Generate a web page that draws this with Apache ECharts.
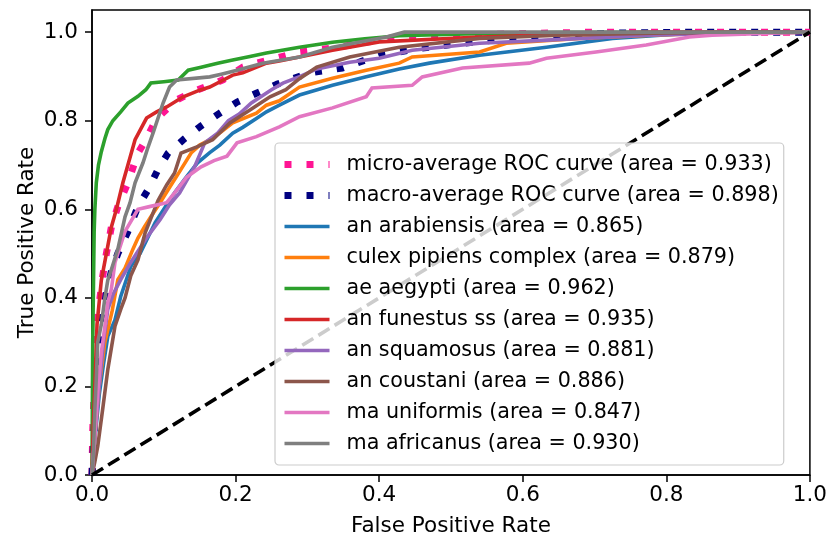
<!DOCTYPE html>
<html>
<head>
<meta charset="utf-8">
<script src="https://cdn.jsdelivr.net/npm/echarts@6/dist/echarts.min.js"></script>
<style>
  html, body { margin: 0; padding: 0; background: #fff; }
  #chart { width: 830px; height: 542px; }
</style>
</head>
<body>
<div id="chart"></div>
<script>
// ROC curves per class: false positive rate (x) and true positive rate (y)
const microFpr = [0, 0.001, 0.004, 0.008, 0.015, 0.020, 0.027, 0.036, 0.050, 0.064, 0.075, 0.090, 0.118, 0.146, 0.182, 0.210, 0.229, 0.289, 0.335, 0.428, 0.550, 0.700, 1.0];
const microTpr = [0, 0.10, 0.24, 0.36, 0.45, 0.50, 0.56, 0.606, 0.66, 0.727, 0.757, 0.805, 0.847, 0.869, 0.892, 0.921, 0.930, 0.955, 0.964, 0.990, 0.995, 1.0, 1.0];

const macroFpr = [0, 0.006, 0.008, 0.011, 0.020, 0.027, 0.036, 0.050, 0.064, 0.078, 0.092, 0.106, 0.127, 0.150, 0.178, 0.202, 0.229, 0.257, 0.303, 0.349, 0.400, 0.460, 0.516, 0.586, 0.725, 0.850, 1.0];
const macroTpr = [0, 0.20, 0.26, 0.31, 0.41, 0.46, 0.50, 0.55, 0.606, 0.644, 0.69, 0.727, 0.757, 0.786, 0.817, 0.842, 0.862, 0.882, 0.908, 0.919, 0.948, 0.964, 0.975, 0.986, 0.998, 1.0, 1.0];

const arabiensisFpr = [0, 0.004, 0.010, 0.016, 0.022, 0.032, 0.040, 0.054, 0.060, 0.067, 0.088, 0.100, 0.115, 0.130, 0.147, 0.164, 0.178, 0.196, 0.210, 0.229, 0.243, 0.261, 0.289, 0.335, 0.382, 0.428, 0.470, 0.540, 0.633, 0.725, 0.818, 0.900, 1.0];
const arabiensisTpr = [0, 0.08, 0.18, 0.25, 0.313, 0.35, 0.403, 0.471, 0.486, 0.50, 0.57, 0.60, 0.637, 0.67, 0.705, 0.728, 0.745, 0.772, 0.785, 0.805, 0.82, 0.835, 0.858, 0.88, 0.899, 0.917, 0.93, 0.948, 0.966, 0.986, 0.996, 1.0, 1.0];

const culexFpr = [0, 0.004, 0.010, 0.018, 0.028, 0.036, 0.046, 0.057, 0.064, 0.073, 0.082, 0.095, 0.106, 0.122, 0.138, 0.150, 0.164, 0.180, 0.196, 0.229, 0.243, 0.261, 0.289, 0.335, 0.382, 0.428, 0.446, 0.540, 0.577, 0.679, 0.780, 0.880, 1.0];
const culexTpr = [0, 0.09, 0.20, 0.30, 0.37, 0.441, 0.467, 0.51, 0.535, 0.56, 0.583, 0.615, 0.644, 0.685, 0.727, 0.745, 0.757, 0.775, 0.795, 0.817, 0.835, 0.845, 0.876, 0.896, 0.914, 0.930, 0.944, 0.955, 0.975, 0.986, 0.993, 0.998, 1.0];

const aegyptiFpr = [0, 0.001, 0.003, 0.004, 0.006, 0.009, 0.013, 0.018, 0.022, 0.029, 0.040, 0.050, 0.064, 0.075, 0.082, 0.100, 0.120, 0.134, 0.152, 0.175, 0.196, 0.220, 0.243, 0.289, 0.335, 0.380, 0.428, 0.520, 0.650, 1.0];
const aegyptiTpr = [0, 0.30, 0.55, 0.60, 0.66, 0.70, 0.73, 0.76, 0.78, 0.80, 0.82, 0.84, 0.855, 0.87, 0.885, 0.888, 0.892, 0.914, 0.921, 0.930, 0.937, 0.945, 0.953, 0.966, 0.977, 0.985, 0.992, 0.996, 0.999, 1.0];

const funestusFpr = [0, 0.002, 0.004, 0.007, 0.013, 0.020, 0.027, 0.034, 0.043, 0.050, 0.060, 0.076, 0.090, 0.104, 0.127, 0.150, 0.164, 0.196, 0.210, 0.243, 0.261, 0.289, 0.335, 0.400, 0.540, 0.725, 0.780, 1.0];
const funestusTpr = [0, 0.12, 0.20, 0.34, 0.44, 0.50, 0.56, 0.60, 0.66, 0.70, 0.757, 0.806, 0.82, 0.831, 0.854, 0.869, 0.876, 0.903, 0.908, 0.930, 0.935, 0.944, 0.959, 0.978, 0.989, 0.998, 1.0, 1.0];

const squamosusFpr = [0, 0.004, 0.010, 0.016, 0.022, 0.030, 0.040, 0.054, 0.062, 0.078, 0.095, 0.108, 0.122, 0.143, 0.157, 0.175, 0.190, 0.205, 0.222, 0.250, 0.266, 0.290, 0.313, 0.359, 0.400, 0.446, 0.540, 0.633, 0.772, 0.910, 1.0];
const squamosusTpr = [0, 0.09, 0.20, 0.30, 0.374, 0.41, 0.441, 0.48, 0.50, 0.54, 0.577, 0.61, 0.637, 0.696, 0.75, 0.772, 0.80, 0.815, 0.84, 0.87, 0.885, 0.90, 0.917, 0.932, 0.941, 0.959, 0.975, 0.982, 0.993, 0.998, 1.0];

const coustaniFpr = [0, 0.004, 0.008, 0.015, 0.022, 0.032, 0.040, 0.046, 0.054, 0.064, 0.074, 0.092, 0.104, 0.115, 0.124, 0.146, 0.168, 0.192, 0.220, 0.248, 0.270, 0.289, 0.313, 0.359, 0.428, 0.540, 0.650, 0.800, 1.0];
const coustaniTpr = [0, 0.03, 0.065, 0.15, 0.238, 0.336, 0.374, 0.40, 0.45, 0.486, 0.547, 0.62, 0.655, 0.682, 0.727, 0.741, 0.757, 0.795, 0.824, 0.854, 0.87, 0.895, 0.921, 0.944, 0.966, 0.986, 0.993, 0.998, 1.0];

const uniformisFpr = [0, 0.004, 0.008, 0.013, 0.018, 0.022, 0.027, 0.032, 0.040, 0.046, 0.064, 0.080, 0.104, 0.115, 0.132, 0.152, 0.170, 0.188, 0.202, 0.229, 0.261, 0.289, 0.335, 0.382, 0.390, 0.446, 0.460, 0.516, 0.609, 0.633, 0.702, 0.772, 0.832, 0.864, 0.957, 1.0];
const uniformisTpr = [0, 0.09, 0.187, 0.277, 0.336, 0.39, 0.42, 0.48, 0.52, 0.55, 0.600, 0.606, 0.615, 0.637, 0.673, 0.696, 0.71, 0.72, 0.75, 0.764, 0.786, 0.809, 0.829, 0.854, 0.874, 0.88, 0.899, 0.919, 0.93, 0.941, 0.955, 0.971, 0.989, 0.993, 0.998, 1.0];

const africanusFpr = [0, 0.002, 0.004, 0.006, 0.008, 0.013, 0.018, 0.022, 0.027, 0.036, 0.046, 0.053, 0.060, 0.071, 0.078, 0.085, 0.099, 0.108, 0.118, 0.164, 0.180, 0.202, 0.238, 0.289, 0.335, 0.410, 0.435, 1.0];
const africanusTpr = [0, 0.05, 0.15, 0.22, 0.30, 0.34, 0.40, 0.44, 0.464, 0.51, 0.583, 0.615, 0.66, 0.705, 0.74, 0.772, 0.84, 0.876, 0.892, 0.899, 0.905, 0.914, 0.930, 0.944, 0.966, 0.989, 1.0, 1.0];

const chanceFpr = [0, 1];
const chanceTpr = [0, 1];

const curveNames = [
  'micro-average ROC curve (area = 0.933)',
  'macro-average ROC curve (area = 0.898)',
  'an arabiensis (area = 0.865)',
  'culex pipiens complex (area = 0.879)',
  'ae aegypti (area = 0.962)',
  'an funestus ss (area = 0.935)',
  'an squamosus (area = 0.881)',
  'an coustani (area = 0.886)',
  'ma uniformis (area = 0.847)',
  'ma africanus (area = 0.930)'
];
const axisTicks = [0, 0.2, 0.4, 0.6, 0.8, 1.0];

const FONT = 'DejaVu Sans';
const pairs = (xs, ys) => xs.map((x, i) => [x, ys[i]]);

const curves = [
  { fpr: microFpr, tpr: microTpr, color: '#ff1493', dotted: true },
  { fpr: macroFpr, tpr: macroTpr, color: '#000080', dotted: true },
  { fpr: arabiensisFpr, tpr: arabiensisTpr, color: '#1f77b4' },
  { fpr: culexFpr, tpr: culexTpr, color: '#ff7f0e' },
  { fpr: aegyptiFpr, tpr: aegyptiTpr, color: '#2ca02c' },
  { fpr: funestusFpr, tpr: funestusTpr, color: '#d62728' },
  { fpr: squamosusFpr, tpr: squamosusTpr, color: '#9467bd' },
  { fpr: coustaniFpr, tpr: coustaniTpr, color: '#8c564b' },
  { fpr: uniformisFpr, tpr: uniformisTpr, color: '#e377c2' },
  { fpr: africanusFpr, tpr: africanusTpr, color: '#7f7f7f' }
];

const series = curves.map((c, i) => ({
  name: curveNames[i],
  type: 'line',
  data: pairs(c.fpr, c.tpr),
  symbol: 'none',
  showSymbol: false,
  silent: true,
  animation: false,
  color: c.color,
  lineStyle: c.dotted
    ? { color: c.color, width: 7, type: [7, 15], cap: 'butt' }
    : { color: c.color, width: 3.6, cap: 'butt', join: 'miter' }
}));

// chance diagonal
series.push({
  type: 'line',
  data: pairs(chanceFpr, chanceTpr),
  symbol: 'none',
  silent: true,
  animation: false,
  lineStyle: { color: '#000', width: 3.6, type: [13, 6], cap: 'butt' }
});

const chart = echarts.init(document.getElementById('chart'), null, { renderer: 'canvas' });
chart.setOption({
  animation: false,
  backgroundColor: '#fff',
  textStyle: { fontFamily: FONT, color: '#000' },
  grid: {
    left: 92, right: 19, top: 10, bottom: 66,
    show: true, borderColor: '#000', borderWidth: 1.5, backgroundColor: 'transparent'
  },
  xAxis: {
    type: 'value', min: 0, max: 1, interval: 0.2,
    name: 'False Positive Rate', nameLocation: 'middle', nameGap: 40, nameMoveOverlap: false,
    nameTextStyle: { fontFamily: FONT, fontSize: 21.5, color: '#000' },
    axisLine: { show: true, lineStyle: { color: '#000', width: 1.5 } },
    axisTick: { show: true, length: 7, lineStyle: { color: '#000', width: 1.5 }, customValues: axisTicks },
    axisLabel: { fontFamily: FONT, fontSize: 21.5, color: '#000', margin: 9, customValues: axisTicks, formatter: v => v.toFixed(1) },
    splitLine: { show: false }
  },
  yAxis: {
    type: 'value', min: 0, max: 1.05, interval: 0.2,
    name: 'True Positive Rate', nameLocation: 'middle', nameGap: 54, nameMoveOverlap: false,
    nameTextStyle: { fontFamily: FONT, fontSize: 21.5, color: '#000' },
    axisLine: { show: true, lineStyle: { color: '#000', width: 1.5 } },
    axisTick: { show: true, length: 7, lineStyle: { color: '#000', width: 1.5 }, customValues: axisTicks },
    axisLabel: { fontFamily: FONT, fontSize: 21.5, color: '#000', margin: 14, customValues: axisTicks, formatter: v => v.toFixed(1) },
    splitLine: { show: false }
  },
  legend: {
    data: curveNames,
    orient: 'vertical',
    left: 275, top: 143,
    padding: [11, 5, 11, 6],
    itemWidth: 45, itemHeight: 14, itemGap: 10,
    backgroundColor: 'rgba(255,255,255,0.8)',
    borderColor: '#cccccc', borderWidth: 1.2, borderRadius: 4,
    selectedMode: false,
    itemStyle: { opacity: 0 },
    lineStyle: { width: 'inherit', type: 'inherit', cap: 'butt' },
    textStyle: { fontFamily: FONT, fontSize: 20.7, color: '#000', lineHeight: 20, padding: [0, 0, 0, 12] }
  },
  series: series
});
</script>
</body>
</html>
